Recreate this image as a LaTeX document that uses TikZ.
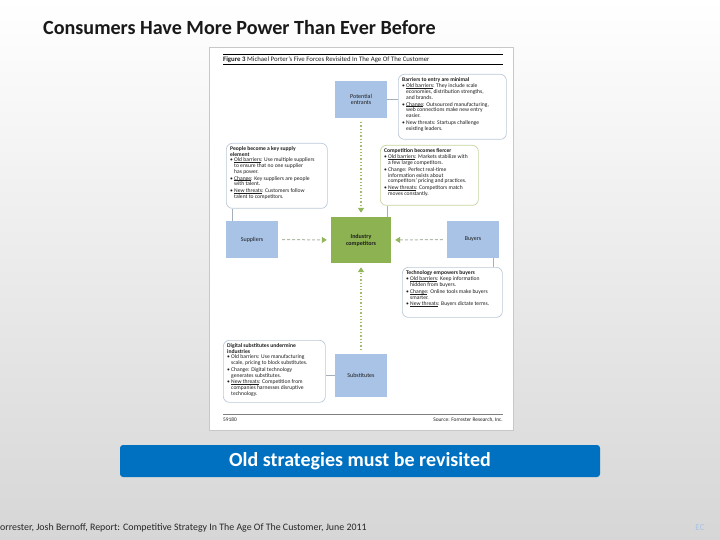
\documentclass[tikz,border=0pt]{standalone}
\usepackage{fontspec}
\setmainfont{Carlito}
\usetikzlibrary{arrows.meta,calc}
\definecolor{boxblue}{RGB}{168,195,229}
\definecolor{boxgreen}{RGB}{140,178,82}
\definecolor{tipgreen}{RGB}{145,182,88}
\definecolor{dotgreen}{RGB}{160,190,110}
\definecolor{dashgray}{RGB}{178,186,170}
\definecolor{callblue}{RGB}{188,202,218}
\definecolor{callgreen}{RGB}{196,214,158}
\definecolor{bannerblue}{RGB}{0,112,192}
\definecolor{framegray}{RGB}{200,200,200}
\definecolor{linkgray}{RGB}{165,175,185}
\definecolor{txt}{RGB}{30,30,30}
\definecolor{ecblue}{RGB}{170,195,230}
\newcommand\lbl[1]{\setbox0\hbox{#1}\rlap{\rule[-0.7pt]{\wd0}{0.35pt}}\box0}
\newcommand\cfont{\fontsize{5.6}{5.85}\selectfont}
\begin{document}
\begin{tikzpicture}[x=1pt,y=-1pt,
  force/.style={fill=boxblue, minimum width=52pt, minimum height=37pt, inner sep=0pt, align=center, font=\fontsize{6}{6.8}\selectfont, text=txt},
  core/.style={fill=boxgreen, minimum width=60pt, minimum height=46pt, inner sep=0pt, align=center, font=\fontsize{6}{6.8}\selectfont\bfseries, text=txt},
  callout/.style={draw=callblue, line width=0.7pt, fill=white, rounded corners=6pt, anchor=north west, inner sep=0pt},
  ctext/.style={anchor=north west, inner sep=0pt, align=left, font=\cfont, text=txt},
  vdot/.style={dotgreen, line width=1.3pt, dash pattern=on 1.3pt off 2pt, shorten <=4pt, shorten >=4pt, -{Triangle[width=6pt,length=5pt,color=tipgreen]}},
  hdash/.style={dashgray, line width=1pt, dash pattern=on 3pt off 2pt, shorten <=4pt, shorten >=4pt, -{Triangle[width=6pt,length=5pt,color=tipgreen]}},
  link/.style={linkgray, line width=0.7pt}
]
\useasboundingbox (0,0) rectangle (720,540);
\shade[top color=white, bottom color=gray!32] (0,0) rectangle (720,540);

% title
\node[anchor=west, inner sep=0pt, font=\fontsize{20.1}{23}\selectfont\bfseries, text=black!90] (title) at (43,28) {Consumers Have More Power Than Ever Before};

% figure frame
\node[draw=framegray, fill=white, minimum width=304pt, minimum height=383pt, anchor=north west, inner sep=0pt] (fig) at (209,47) {};
\draw[line width=0.9pt] (223,54) -- (503,54);
\draw[line width=0.5pt] (223,64) -- (503,64);
\node[anchor=west, inner sep=0pt, font=\fontsize{6.8}{7.5}\selectfont, text=txt] (fighead) at (223,59.3) {\textbf{Figure 3} Michael Porter's Five Forces Revisited In The Age Of The Customer};
\draw[gray, line width=0.5pt] (223,414) -- (503,414);
\node[anchor=west, inner sep=0pt, font=\fontsize{5.4}{6.5}\selectfont, text=txt] (fignum) at (223,419.5) {59180};
\node[anchor=east, inner sep=0pt, font=\fontsize{5.4}{6.5}\selectfont, text=txt] (figsrc) at (503,419.5) {Source: Forrester Research, Inc.};

% forces
\node[force] (pe) at (361,99.5) {Potential\\entrants};
\node[force] (sp) at (252,239.5) {Suppliers};
\node[core] (ic) at (361,240) {Industry\\competitors};
\node[force] (by) at (473,239.5) {Buyers};
\node[force, minimum height=43pt] (sb) at (361,375.5) {Substitutes};

\draw[vdot] (pe.south) -- (ic.north);
\draw[vdot] (sb.north) -- (ic.south);
\draw[hdash] (sp.east) -- (ic.west);
\draw[hdash] (by.west) -- (ic.east);

% callouts
\node[callout, minimum width=108pt, minimum height=65pt] (c1) at (398,74) {};
\node[ctext] (t1) at ([xshift=4pt,yshift=-3.5pt]c1.north west) {\textbf{Barriers to entry are minimal}\\[0.3pt]
\begin{tabular}{@{}l@{\hspace{1.2pt}}l@{}}
\textbullet & \lbl{Old barriers}: They include scale\\
& economies, distribution strengths,\\
& and brands.\\[0.6pt]
\textbullet & \lbl{Change}: Outsourced manufacturing,\\
& web connections make new entry\\
& easier.\\[0.6pt]
\textbullet & New threats: Startups challenge\\
& existing leaders.
\end{tabular}};

\node[callout, minimum width=101pt, minimum height=65pt] (c2) at (226,143) {};
\node[ctext] (t2) at ([xshift=4pt,yshift=-3.5pt]c2.north west) {\textbf{People become a key supply}\\\textbf{element}\\[0.3pt]
\begin{tabular}{@{}l@{\hspace{1.2pt}}l@{}}
\textbullet & \lbl{Old barriers}: Use multiple suppliers\\
& to ensure that no one supplier\\
& has power.\\[0.6pt]
\textbullet & \lbl{Change}: Key suppliers are people\\
& with talent.\\[0.6pt]
\textbullet & \lbl{New threats}: Customers follow\\
& talent to competitors.
\end{tabular}};

\node[callout, draw=callgreen, minimum width=98pt, minimum height=60pt] (c3) at (380,145) {};
\node[ctext] (t3) at ([xshift=4pt,yshift=-3.5pt]c3.north west) {\textbf{Competition becomes fiercer}\\[0.3pt]
\begin{tabular}{@{}l@{\hspace{1.2pt}}l@{}}
\textbullet & \lbl{Old barriers}: Markets stabilize with\\
& a few large competitors.\\[0.6pt]
\textbullet & Change: Perfect real-time\\
& information exists about\\
& competitors' pricing and practices.\\[0.6pt]
\textbullet & \lbl{New threats}: Competitors match\\
& moves constantly.
\end{tabular}};

\node[callout, minimum width=100pt, minimum height=50pt] (c4) at (402,267) {};
\node[ctext] (t4) at ([xshift=4pt,yshift=-3.5pt]c4.north west) {\textbf{Technology empowers buyers}\\[0.3pt]
\begin{tabular}{@{}l@{\hspace{1.2pt}}l@{}}
\textbullet & \lbl{Old barriers}: Keep information\\
& hidden from buyers.\\[0.6pt]
\textbullet & \lbl{Change}: Online tools make buyers\\
& smarter.\\[0.6pt]
\textbullet & \lbl{New threats}: Buyers dictate terms.
\end{tabular}};

\node[callout, minimum width=102pt, minimum height=62pt] (c5) at (223,340) {};
\node[ctext] (t5) at ([xshift=4pt,yshift=-3.5pt]c5.north west) {\textbf{Digital substitutes undermine}\\\textbf{industries}\\[0.3pt]
\begin{tabular}{@{}l@{\hspace{1.2pt}}l@{}}
\textbullet & Old barriers: Use manufacturing\\
& scale, pricing to block substitutes.\\[0.6pt]
\textbullet & Change: Digital technology\\
& generates substitutes.\\[0.6pt]
\textbullet & \lbl{New threats}: Competition from\\
& companies harnesses disruptive\\
& technology.
\end{tabular}};

% callout links
\draw[link] (pe.east) -- (pe.east -| c1.west);
\draw[link] ([xshift=7pt]sp.north west) -- ([xshift=7pt]sp.north west |- c2.south);
\draw[link] ([xshift=-4pt]ic.north east) -- ([xshift=-4pt]ic.north east |- c3.south);
\draw[link] ([xshift=-6pt]by.south east) -- ([xshift=-6pt]by.south east |- c4.north);
\draw[link] (sb.west) -- (sb.west -| c5.east);

% banner
\node[fill=bannerblue, rounded corners=3pt, minimum width=480pt, minimum height=32pt, inner sep=0pt, text=white, font=\fontsize{20}{22}\selectfont\bfseries] (ban) at (360,461) {Old strategies must be revisited};

% footer
\node[anchor=west, inner sep=0pt, font=\fontsize{9.9}{11.5}\selectfont, text=black!85] (foot) at (0,528) {orrester, Josh Bernoff, Report: Competitive Strategy In The Age Of The Customer, June 2011};
\node[inner sep=0pt, font=\fontsize{9}{11}\selectfont, text=ecblue] (ec) at (700,528) {EC};
\end{tikzpicture}
\end{document}
